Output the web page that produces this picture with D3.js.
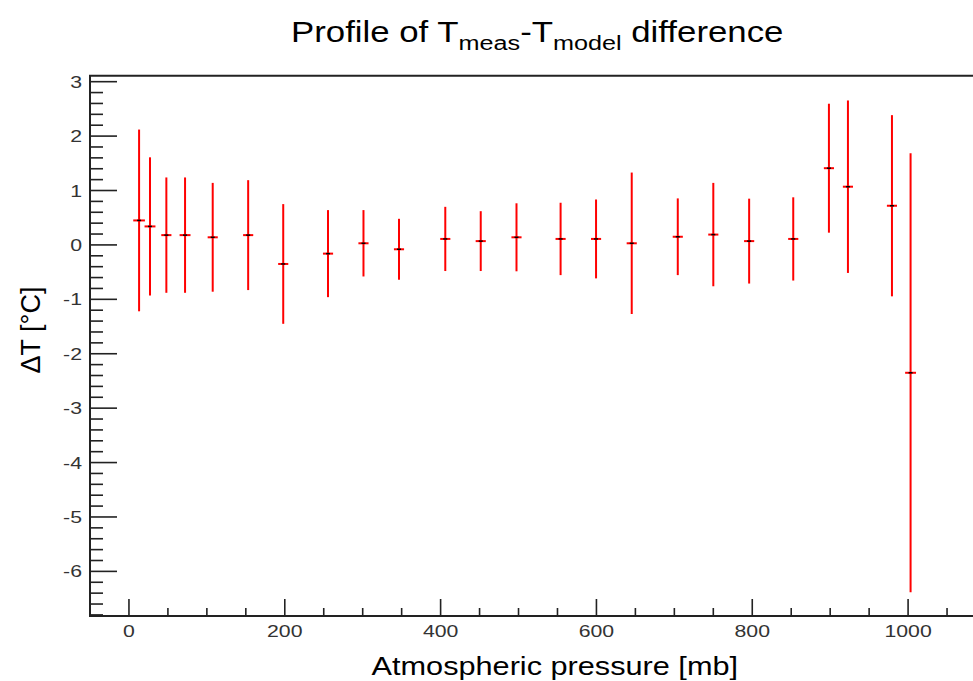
<!DOCTYPE html>
<html>
<head>
<meta charset="utf-8">
<script src="https://cdn.jsdelivr.net/npm/d3@7"></script>
<style>
  body { margin: 0; background: #fff; }
  text { font-family: "Liberation Sans", Arial, sans-serif; }
</style>
</head>
<body>
<svg id="chart"></svg>
<script>
let width = 973, height = 681;

// data
let pressure = [13, 27, 48, 72, 107.5, 153, 198, 255.5, 301, 346.6, 406, 451.5,
                497.4, 554, 599.5, 645.3, 704.4, 750, 796, 852.6, 898.4, 922.8, 979.3, 1003.2];
let deltaT   = [0.45, 0.34, 0.18, 0.18, 0.14, 0.18, -0.35, -0.16, 0.03, -0.08, 0.11, 0.07,
                0.14, 0.11, 0.11, 0.03, 0.15, 0.19, 0.07, 0.11, 1.41, 1.07, 0.72, -2.35];
let errT     = [1.67, 1.27, 1.06, 1.06, 1.0, 1.01, 1.1, 0.8, 0.61, 0.56, 0.59, 0.55,
                0.625, 0.665, 0.725, 1.3, 0.705, 0.95, 0.78, 0.765, 1.185, 1.585, 1.665, 4.035];
let errP     = [7.5, 7, 6.5, 7, 6.5, 6.5, 6.5, 6.5, 6.5, 6.5, 6.5, 6.5,
                6.5, 6.5, 6.5, 6.5, 6.5, 6.5, 6.5, 6.5, 6.5, 6.5, 6.5, 7];
let xTicks = [0, 200, 400, 600, 800, 1000];
let yTicks = [-6, -5, -4, -3, -2, -1, 0, 1, 2, 3];

let svg = d3.select("#chart")
    .attr("width", width)
    .attr("height", height);

let x = d3.scaleLinear().domain([-50, 1100]).range([90, 986]);
let y = d3.scaleLinear().domain([-6.82, 3.11]).range([616, 75.7]);

let x0 = x(-50), y0 = y(-6.82), yTop = y(3.11);

// minor ticks
let xMinor = d3.range(-50, 1101, 50).filter(d => d % 200 !== 0 && d > -50);
let yMinor = d3.range(-68, 32, 2).map(d => d / 10).filter(d => Math.abs(d - Math.round(d)) > 1e-6);

let axisG = svg.append("g").attr("stroke", "#222").attr("stroke-width", 1.6);

axisG.selectAll(".xmaj").data(xTicks).join("line")
    .attr("x1", d => x(d)).attr("x2", d => x(d))
    .attr("y1", y0).attr("y2", y0 - 17);
axisG.selectAll(".xmin").data(xMinor).join("line")
    .attr("class", "xmin")
    .attr("x1", d => x(d)).attr("x2", d => x(d))
    .attr("y1", y0).attr("y2", y0 - 8);
axisG.selectAll(".ymaj").data(yTicks).join("line")
    .attr("class", "ymaj")
    .attr("x1", x0).attr("x2", x0 + 27)
    .attr("y1", d => y(d)).attr("y2", d => y(d));
axisG.selectAll(".ymin").data(yMinor).join("line")
    .attr("class", "ymin")
    .attr("x1", x0).attr("x2", x0 + 13)
    .attr("y1", d => y(d)).attr("y2", d => y(d));

// frame lines
svg.append("path")
    .attr("d", `M${width},${yTop}H${x0}V${y0}H${width}`)
    .attr("fill", "none")
    .attr("stroke", "#222")
    .attr("stroke-width", 2);

// tick labels (the reference text is a bit stretched sideways)
svg.append("g").selectAll("text").data(xTicks).join("text")
    .attr("transform", d => `translate(${x(d)},637) scale(1.25,1)`)
    .attr("text-anchor", "middle")
    .attr("font-size", 17).attr("fill", "#333")
    .text(d => d);
svg.append("g").selectAll("text").data(yTicks).join("text")
    .attr("transform", d => `translate(82,${y(d) + 6}) scale(1.25,1)`)
    .attr("text-anchor", "end")
    .attr("font-size", 17).attr("fill", "#333")
    .text(d => d);

// error bars
let pts = pressure.map((p, i) => ({p: p, v: deltaT[i], e: errT[i], ep: errP[i]}));
let bars = svg.append("g").attr("stroke", "#f00").attr("stroke-width", 2);
bars.selectAll(".ev").data(pts).join("line")
    .attr("class", "ev")
    .attr("x1", d => x(d.p)).attr("x2", d => x(d.p))
    .attr("y1", d => y(d.v + d.e)).attr("y2", d => y(d.v - d.e));
bars.selectAll(".eh").data(pts).join("line")
    .attr("class", "eh")
    .attr("x1", d => x(d.p - d.ep)).attr("x2", d => x(d.p + d.ep))
    .attr("y1", d => y(d.v)).attr("y2", d => y(d.v));
svg.append("g").selectAll("line").data(pts).join("line")
    .attr("x1", d => x(d.p) - 2).attr("x2", d => x(d.p) + 2)
    .attr("y1", d => y(d.v)).attr("y2", d => y(d.v))
    .attr("stroke", "#000").attr("stroke-width", 1.5);

// titles
let title = svg.append("text")
    .attr("transform", "translate(291,42) scale(1.2,1)")
    .attr("font-size", 29).attr("fill", "#000");
title.append("tspan").text("Profile of T");
title.append("tspan").attr("dy", 8).attr("font-size", 21).text("meas");
title.append("tspan").attr("dy", -8).text("-T");
title.append("tspan").attr("dy", 8).attr("font-size", 21).text("model");
title.append("tspan").attr("dy", -8).text(" difference");

svg.append("text")
    .attr("transform", "translate(738,675) scale(1.18,1)")
    .attr("text-anchor", "end")
    .attr("font-size", 26)
    .text("Atmospheric pressure [mb]");

svg.append("text")
    .attr("transform", "translate(40,330) rotate(-90)")
    .attr("text-anchor", "middle")
    .attr("font-size", 27)
    .text("ΔT [°C]");
</script>
</body>
</html>
